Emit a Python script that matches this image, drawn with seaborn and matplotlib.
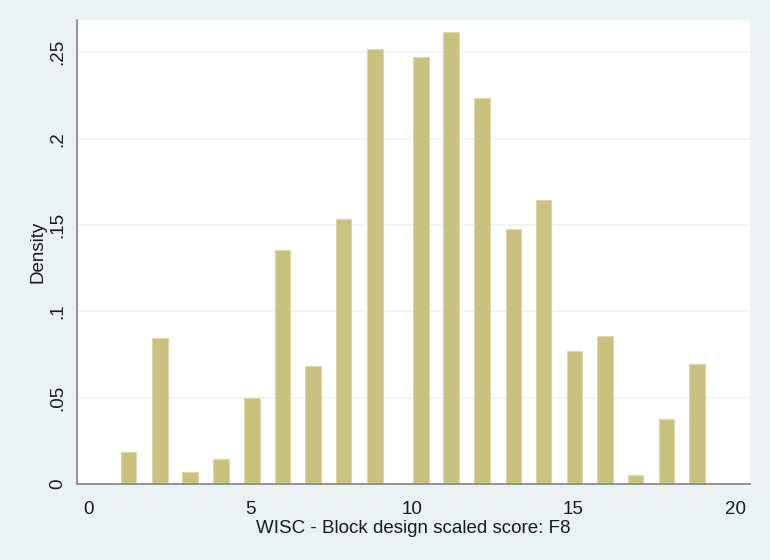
import numpy as np
import pandas as pd
import seaborn as sns
import matplotlib
matplotlib.use("Agg")
import matplotlib.pyplot as plt

# bar centres (score) and density heights
score = [1.24, 2.22, 3.15, 4.10, 5.06, 6.01, 6.95, 7.89, 8.86, 10.29,
         11.22, 12.18, 13.15, 14.08, 15.03, 15.98, 16.92, 17.88, 18.82]
density = [0.0184, 0.0847, 0.0069, 0.0143, 0.0496, 0.1355, 0.0685, 0.1535,
           0.2519, 0.2475, 0.2616, 0.2237, 0.1477, 0.1645, 0.0772, 0.0859,
           0.0052, 0.0376, 0.0695]
x_ticks = [0, 5, 10, 15, 20]
y_ticks = [0, 0.05, 0.10, 0.15, 0.20, 0.25]
y_labels = ["0", ".05", ".1", ".15", ".2", ".25"]

bg = "#eaf2f3"
grid_color = "#eef4f5"
bar_color = "#c9c27f"
axis_color = "#8c8c8c"
text_color = "#1a1a1a"

sns.set_style("white")
plt.rcParams['font.family'] = ['Liberation Sans', 'DejaVu Sans']

df = pd.DataFrame({"score": score, "density": density})

fig = plt.figure(figsize=(7.7, 5.6), dpi=100, facecolor=bg)
ax = fig.add_axes([0.1, 0.1357, 0.874, 0.8286])
ax.set_facecolor("white")

min_gap = np.diff(sorted(score)).min()
sns.barplot(data=df, x="score", y="density", native_scale=True,
            width=0.48 / min_gap, color=bar_color, saturation=1,
            edgecolor="#dcd7a6", linewidth=0.8, errorbar=None, ax=ax)

ax.set_xlim(-0.35, 20.46)
ax.set_ylim(0, 0.2687)
ax.set_xticks(x_ticks)
ax.set_xticklabels([str(t) for t in x_ticks])
ax.set_yticks(y_ticks)
ax.set_yticklabels(y_labels, rotation=90, va="center")

ax.yaxis.grid(True, color=grid_color, linewidth=1.3)
ax.set_axisbelow(True)

for side in ["top", "right"]:
    ax.spines[side].set_visible(False)
for side in ["left", "bottom"]:
    ax.spines[side].set_color(axis_color)
    ax.spines[side].set_linewidth(1.3)

ax.tick_params(axis="both", direction="out", length=6, width=1.2,
               color=axis_color, labelsize=13.5, labelcolor=text_color)
ax.tick_params(axis="x", pad=6.5)
ax.tick_params(axis="y", pad=2)

ax.set_xlabel("WISC - Block design scaled score: F8", fontsize=13.5,
              color=text_color, labelpad=1.5)
ax.set_ylabel("Density", fontsize=13.5, color=text_color, labelpad=2)

fig.savefig("out.png", dpi=100, facecolor=bg)
